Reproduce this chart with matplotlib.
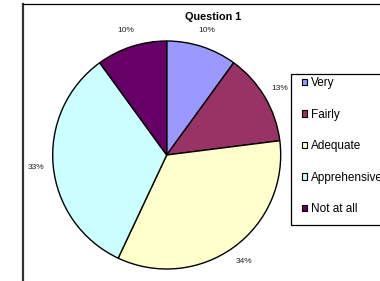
import matplotlib
matplotlib.use("Agg")
import matplotlib.pyplot as plt
from matplotlib.patches import Rectangle, Patch
from matplotlib.lines import Line2D

categories = ["Very", "Fairly", "Adequate", "Apprehensive", "Not at all"]
values = [10, 13, 34, 33, 10]
colors = ["#9999FF", "#993366", "#FFFFCC", "#CCFFFF", "#660066"]
title = "Question 1"

plt.rcParams['font.family'] = ['Liberation Sans', 'DejaVu Sans']

W, H = 380, 281
fig = plt.figure(figsize=(W / 100, H / 100), dpi=100)
ax = fig.add_axes([0, 0, 1, 1])

# chart area border (left and top visible)
ax.add_line(Line2D([22.5, 22.5], [H - 4, 0], color="#333333", lw=1.6))
ax.add_line(Line2D([22.5, W], [H - 4, H - 4], color="black", lw=0.9))

wedges, texts, autotexts = ax.pie(
    values, colors=colors, startangle=90, counterclock=False,
    center=(166.7, H - 155), radius=114, frame=True,
    autopct='%.0f%%', pctdistance=1.15,
    wedgeprops=dict(edgecolor="black", linewidth=1.0),
    textprops=dict(fontsize=6, color="#222222"))
ax.set_xlim(0, W)
ax.set_ylim(0, H)
ax.set_aspect('equal')
ax.axis('off')

ax.text(213, H - 17, title, ha='center', va='center', fontsize=7.8,
        fontweight='bold')

# legend frame
ax.add_patch(Rectangle((291, H - 225), 120, 151, facecolor='white',
                       edgecolor='black', lw=0.9, clip_on=True))
handles = [Patch(facecolor=c, edgecolor='black', lw=0.8) for c in colors]
leg = ax.legend(handles, categories, loc='upper left',
                bbox_to_anchor=(301 / W, 1 - 76 / H),
                bbox_transform=fig.transFigure, frameon=False,
                fontsize=8.5, handlelength=0.45, handleheight=0.45,
                handletextpad=0.3, labelspacing=1.65, borderpad=0.1,
                borderaxespad=0)

fig.savefig("out.png", dpi=100)
